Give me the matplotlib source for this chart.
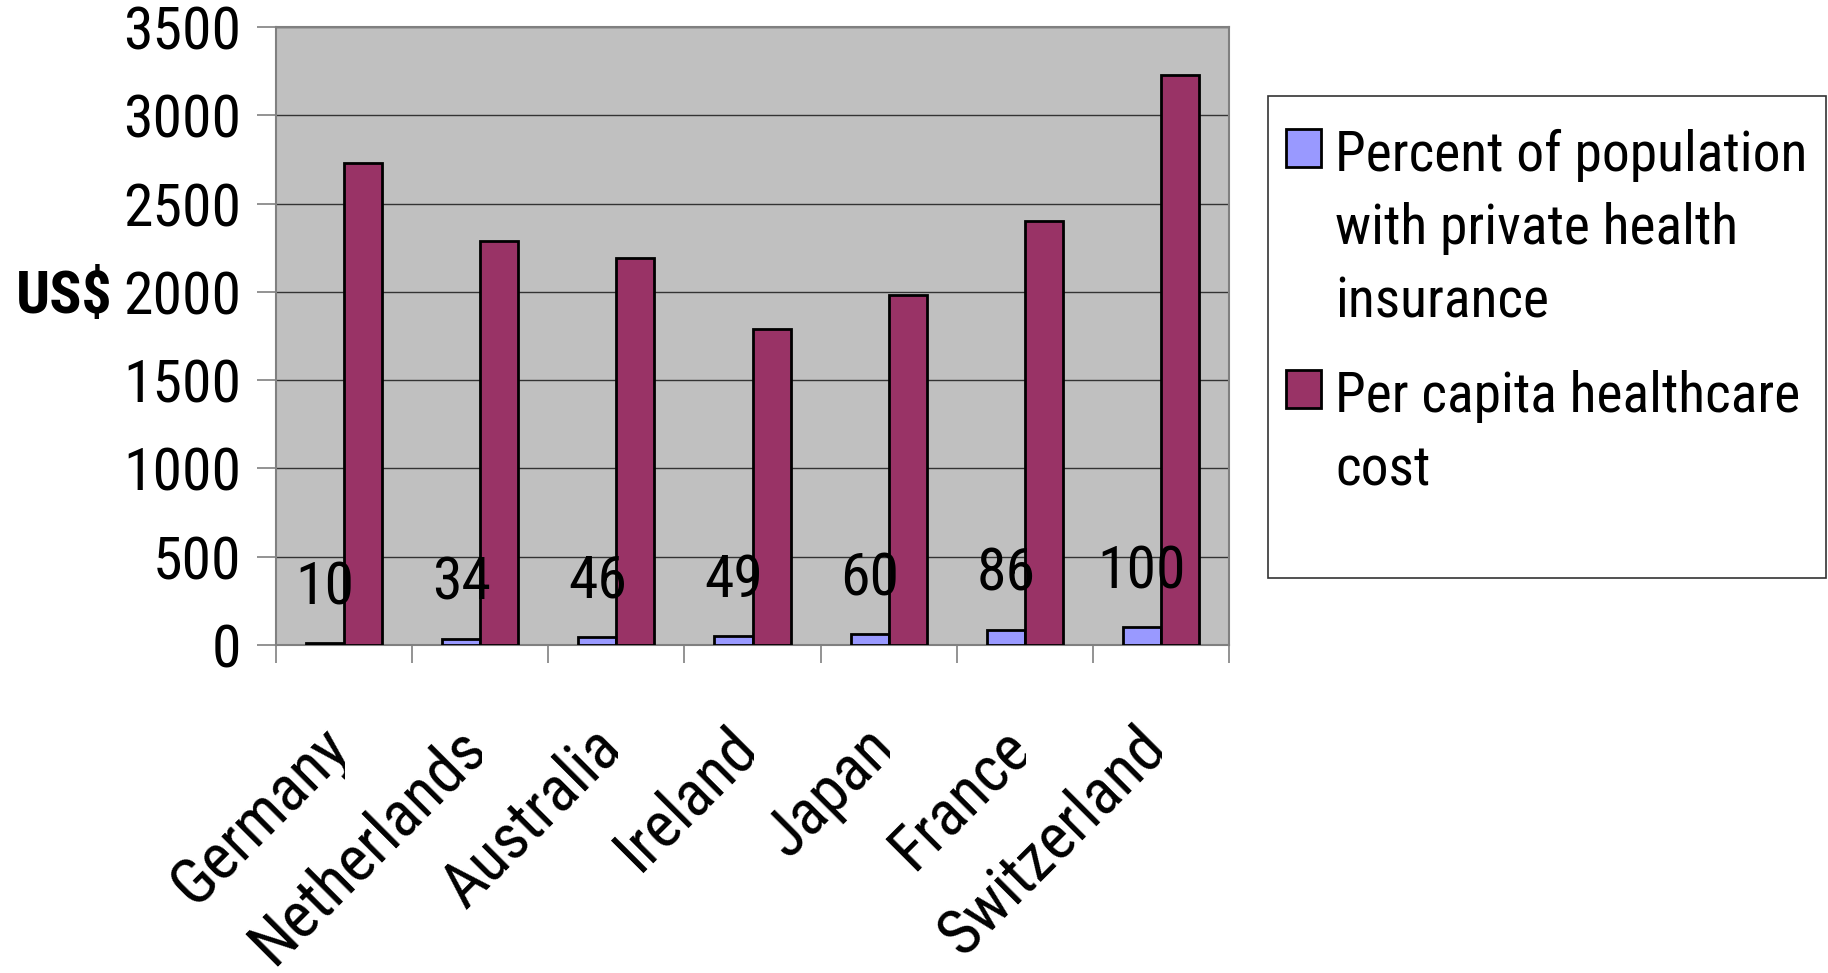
import matplotlib.pyplot as plt
import numpy as np
from matplotlib.patches import Rectangle
from matplotlib.transforms import Bbox, TransformedBbox

countries = ['Germany', 'Netherlands', 'Australia', 'Ireland', 'Japan', 'France', 'Switzerland']
private_pct = [10, 34, 46, 49, 60, 86, 100]
cost_usd = [2730, 2290, 2190, 1790, 1980, 2400, 3230]
series_names = ['Percent of population\nwith private health\ninsurance',
                'Per capita healthcare\ncost']
series_colors = ['#9999ff', '#993366']
yticks = [0, 500, 1000, 1500, 2000, 2500, 3000, 3500]

plt.rcParams['font.family'] = ['Roboto Condensed', 'Liberation Sans', 'DejaVu Sans']
fs = 43

W, H = 1828, 973
fig = plt.figure(figsize=(W / 100, H / 100), dpi=100)
ax = fig.add_axes([276 / W, 1 - 645 / H, (1229 - 276) / W, (645 - 27) / H])

x = np.arange(len(countries))
w = 0.28
ax.set_facecolor('#c0c0c0')
ax.bar(x - w / 2, private_pct, w, color=series_colors[0], edgecolor='black', linewidth=2, zorder=3)
ax.bar(x + w / 2, cost_usd, w, color=series_colors[1], edgecolor='black', linewidth=2, zorder=3)

# value labels above the small bars
for xi, v in zip(x - w / 2, private_pct):
    ax.annotate(str(v), (xi, v), xytext=(0, 40), textcoords='offset points',
                ha='center', va='center', fontsize=fs, zorder=5)

ax.set_xlim(-0.5, len(countries) - 0.5)
ax.set_ylim(0, 3500)
ax.set_yticks(yticks)
ax.yaxis.grid(True, color='#333333', linewidth=1)
ax.set_axisbelow(True)
ax.tick_params(axis='y', length=14, width=1.2, color='#808080', pad=11, labelsize=fs)
ax.set_xticks(np.arange(-0.5, len(countries), 1))
ax.set_xticklabels([])
ax.tick_params(axis='x', length=13, width=1.2, color='#808080')
for s in ax.spines.values():
    s.set_color('#808080')
    s.set_linewidth(1.5)

# rotated category names, cut off at the category centre
xt = ax.get_xaxis_transform()
for i, name in enumerate(countries):
    t = fig.text(i + 0.13, -0.115, name, transform=xt, rotation=45,
                 ha='right', va='top', fontsize=46)
    t.set_clip_box(TransformedBbox(Bbox([[i - 5, -2], [i + 0.01, 0]]), xt))
    t.set_clip_on(True)

fig.text(64 / W, 1 - 297 / H, 'US$', fontweight='bold', ha='center', va='center', fontsize=fs)

# legend box
fig.add_artist(Rectangle((1268 / W, 1 - 578 / H), (1826 - 1268) / W, (578 - 96) / H,
                         transform=fig.transFigure, facecolor='white', edgecolor='#333333', lw=1.2))
for top, name, col in zip([129, 370], series_names, series_colors):
    fig.add_artist(Rectangle((1286 / W, 1 - (top + 38) / H), 35 / W, 38 / H,
                             transform=fig.transFigure, facecolor=col, edgecolor='black', lw=2))
    fig.text(1335 / W, 1 - top / H, name, ha='left', va='top', fontsize=40, linespacing=1.48)

fig.savefig('out.png', dpi=100)
